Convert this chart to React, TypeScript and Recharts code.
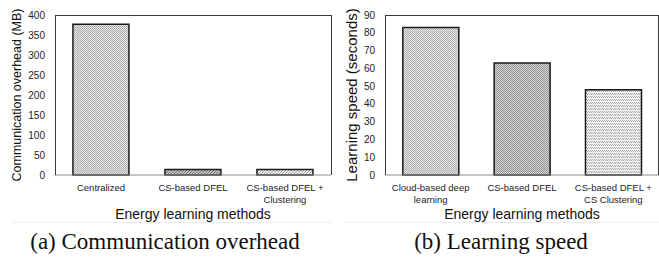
import React from "react";
import { BarChart, Bar, XAxis, YAxis, Cell, Label } from "recharts";

// (a) communication overhead
const overheadMethods = ["Centralized", "CS-based DFEL", "CS-based DFEL + Clustering"];
const overheadTickLines = [["Centralized"], ["CS-based DFEL"], ["CS-based DFEL +", "Clustering"]];
const overheadMB = [377, 14, 14];
const overheadTicks = [0, 50, 100, 150, 200, 250, 300, 350, 400];

// (b) learning speed
const speedMethods = ["Cloud-based deep learning", "CS-based DFEL", "CS-based DFEL + CS Clustering"];
const speedTickLines = [["Cloud-based deep", "learning"], ["CS-based DFEL"], ["CS-based DFEL +", "CS Clustering"]];
const speedSeconds = [83, 63, 48];
const speedTicks = [0, 10, 20, 30, 40, 50, 60, 70, 80, 90];

const sans = "'Liberation Sans', Arial, sans-serif";

const overheadData = overheadMethods.map((m, i) => ({ method: m, value: overheadMB[i] }));
const speedData = speedMethods.map((m, i) => ({ method: m, value: speedSeconds[i] }));

const makeTick = (lines: string[][]) => (props: any) => {
  const { x, y, index } = props;
  const ls = lines[index] || [];
  return (
    <text x={x} y={y + 8} textAnchor="middle" fontSize={9.5} fontFamily={sans} fill="#222">
      {ls.map((l, i) => (
        <tspan key={i} x={x} dy={i === 0 ? 0 : 12}>
          {l}
        </tspan>
      ))}
    </text>
  );
};

const YTitle = ({ viewBox, value, cx, size }: any) => {
  const cy = viewBox.y + viewBox.height / 2;
  return (
    <text
      x={cx}
      y={cy}
      transform={`rotate(-90 ${cx} ${cy})`}
      textAnchor="middle"
      dominantBaseline="central"
      fontSize={size}
      fontFamily={sans}
      fill="#111"
    >
      {value}
    </text>
  );
};

const XTitle = ({ viewBox, value }: any) => (
  <text
    x={viewBox.x + viewBox.width / 2}
    y={219}
    textAnchor="middle"
    fontSize={14}
    fontFamily={sans}
    fill="#111"
  >
    {value}
  </text>
);

function Panel({
  data,
  tickLines,
  ticks,
  max,
  yTitle,
  yTitleX,
  yTitleSize,
  fills,
  width,
}: any) {
  return (
    <BarChart
      width={width}
      height={225}
      data={data}
      margin={{ top: 15, right: 1, left: 0, bottom: 0 }}
      barCategoryGap="19.5%"
    >
      <XAxis
        dataKey="method"
        height={50}
        tickLine={false}
        axisLine={{ stroke: "#8c8c8c" }}
        interval={0}
        tick={makeTick(tickLines)}
      >
        <Label content={<XTitle value="Energy learning methods" />} />
      </XAxis>
      <YAxis
        width={55}
        domain={[0, max]}
        ticks={ticks}
        tickLine={false}
        axisLine={false}
        tickMargin={4}
        tick={{ fontSize: 10, fill: "#222", fontFamily: sans }}
      >
        <Label content={<YTitle value={yTitle} cx={yTitleX} size={yTitleSize} />} />
      </YAxis>
      <Bar dataKey="value" stroke="#1a1a1a" strokeWidth={1.5} isAnimationActive={false}>
        {data.map((_: any, i: number) => (
          <Cell key={i} fill={fills[i]} />
        ))}
      </Bar>
    </BarChart>
  );
}

const boxStyle = (left: number, width: number): React.CSSProperties => ({
  position: "absolute",
  left,
  top: 15,
  width,
  height: 160,
  borderTop: "1px solid #3a3a3a",
  borderLeft: "1px solid #3a3a3a",
  borderRight: "1px solid #3a3a3a",
  boxSizing: "border-box",
  pointerEvents: "none",
});

const captionStyle: React.CSSProperties = {
  position: "absolute",
  top: 229,
  textAlign: "center",
  fontFamily: "'Liberation Serif', 'Times New Roman', serif",
  fontSize: 23,
  lineHeight: "26px",
  color: "#111",
  whiteSpace: "nowrap",
};

export default function App() {
  return (
    <div
      style={{
        position: "absolute",
        left: 0,
        top: 0,
        width: 659,
        height: 263,
        background: "#fff",
        overflow: "hidden",
      }}
    >
      <svg width={0} height={0} style={{ position: "absolute" }}>
        <defs>
          <pattern id="dots" width={2} height={2} patternUnits="userSpaceOnUse">
            <rect width={2} height={2} fill="#e8e8e8" />
            <rect x={0} y={0} width={1} height={1} fill="#acacac" />
            <rect x={1} y={1} width={1} height={1} fill="#acacac" />
          </pattern>
          <pattern id="dense" width={2} height={2} patternUnits="userSpaceOnUse">
            <rect width={2} height={2} fill="#d4d4d4" />
            <rect x={0} y={0} width={1} height={1} fill="#949494" />
            <rect x={1} y={1} width={1} height={1} fill="#949494" />
          </pattern>
          <pattern id="light" width={4} height={3} patternUnits="userSpaceOnUse">
            <rect width={4} height={3} fill="#f2f2f2" />
            <rect x={0} y={0} width={1} height={1} fill="#9e9e9e" />
            <rect x={1} y={1} width={1} height={1} fill="#9e9e9e" />
            <rect x={2} y={0} width={1} height={1} fill="#b4b4b4" />
            <rect x={3} y={1} width={1} height={1} fill="#b4b4b4" />
          </pattern>
          <pattern id="stripeDark" width={3} height={3} patternUnits="userSpaceOnUse">
            <rect width={3} height={3} fill="#c4c4c4" />
            <rect x={0} y={2} width={1} height={1} fill="#6e6e6e" />
            <rect x={1} y={1} width={1} height={1} fill="#6e6e6e" />
            <rect x={2} y={0} width={1} height={1} fill="#6e6e6e" />
          </pattern>
          <pattern id="stripeLight" width={3} height={3} patternUnits="userSpaceOnUse">
            <rect width={3} height={3} fill="#f0f0f0" />
            <rect x={0} y={2} width={1} height={1} fill="#9c9c9c" />
            <rect x={1} y={1} width={1} height={1} fill="#9c9c9c" />
            <rect x={2} y={0} width={1} height={1} fill="#9c9c9c" />
          </pattern>
        </defs>
      </svg>

      <div style={{ position: "absolute", left: 0, top: 0 }}>
        <Panel
          data={overheadData}
          tickLines={overheadTickLines}
          ticks={overheadTicks}
          max={400}
          yTitle="Communication overhead (MB)"
          yTitleX={17}
          yTitleSize={12.5}
          fills={["url(#dots)", "url(#stripeDark)", "url(#stripeLight)"]}
          width={332}
        />
      </div>
      <div style={{ position: "absolute", left: 330, top: 0 }}>
        <Panel
          data={speedData}
          tickLines={speedTickLines}
          ticks={speedTicks}
          max={90}
          yTitle="Learning speed (seconds)"
          yTitleX={21}
          yTitleSize={15}
          fills={["url(#dots)", "url(#dense)", "url(#light)"]}
          width={330}
        />
      </div>

      <div style={boxStyle(55, 277)} />
      <div style={boxStyle(385, 274)} />

      <div style={{ position: "absolute", left: 13, top: 222, width: 318, height: 1, background: "#ececec" }} />
      <div style={{ position: "absolute", left: 345, top: 222, width: 314, height: 1, background: "#ececec" }} />

      <div style={{ ...captionStyle, left: 0, width: 330 }}>(a) Communication overhead</div>
      <div style={{ ...captionStyle, left: 412, width: 178 }}>(b) Learning speed</div>
    </div>
  );
}
